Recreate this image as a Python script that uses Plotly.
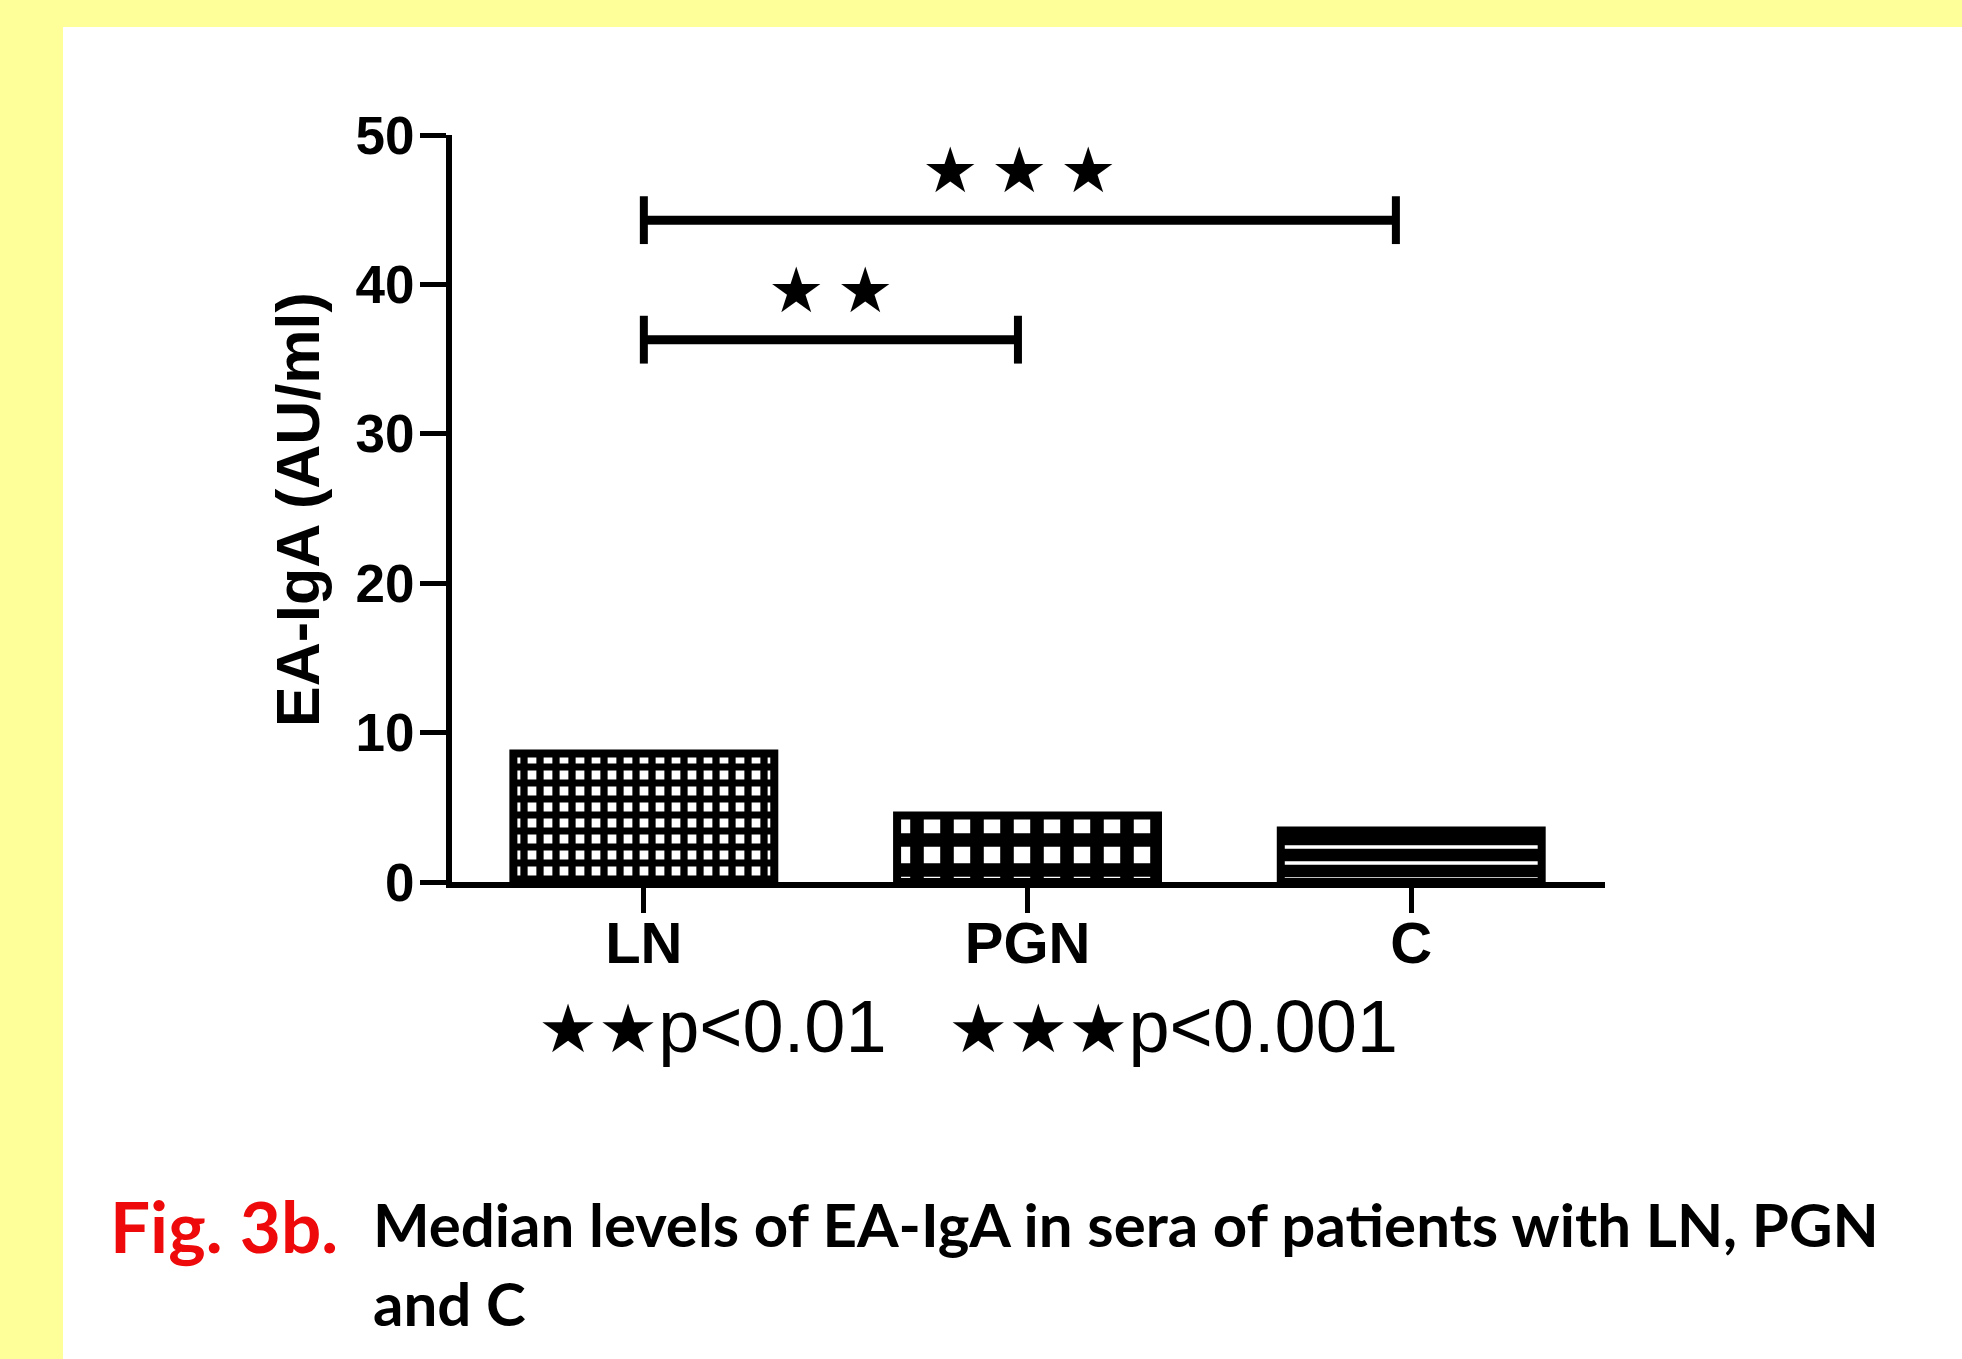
import plotly.graph_objects as go

# ---------------- data ----------------
categories = ["LN", "PGN", "C"]
medians = [8.6, 4.45, 3.45]
y_ticks = [0, 10, 20, 30, 40, 50]

bracket_start = [0.0, 0.0]
bracket_end = [1.96, 0.975]
bracket_level = [44.3, 36.3]
bracket_stars = ["★\u2009★\u2009★", "★\u2009★"]

legend_stars = ["★★", "★★★"]
legend_p = ["p<0.01", "p<0.001"]

caption_fig = "Fig. 3b."
caption_lines = ["Median levels of EA-IgA in sera of patients with LN, PGN", "and C"]

# ---------------- layout constants (pixels) ----------------
W, H = 1962, 1359
L, R, T, B = 452, 1962 - 1605, 135, 1359 - 882
pw, ph = W - L - R, H - T - B


def px_x(p):
    return (p - L) / pw


def px_y(p):
    return (H - B - p) / ph


patterns = [
    dict(shape="+", fgcolor="black", bgcolor="white", size=16, solidity=0.7, fgopacity=1),
    dict(shape="+", fgcolor="black", bgcolor="white", size=30, solidity=0.7, fgopacity=1),
    dict(shape="-", fgcolor="white", bgcolor="black", size=16, solidity=0.22, fgopacity=1),
]

fig = go.Figure()
for i, (c, v) in enumerate(zip(categories, medians)):
    fig.add_trace(go.Bar(
        x=[i], y=[v], width=0.68,
        marker=dict(color="white", pattern=patterns[i],
                    line=dict(color="black", width=8)),
        showlegend=False, hoverinfo="skip",
    ))

# significance brackets
tick_h = 1.6
for xs, xe, yl, s in zip(bracket_start, bracket_end, bracket_level, bracket_stars):
    fig.add_trace(go.Scatter(
        x=[xs, xe], y=[yl, yl], mode="lines",
        line=dict(color="black", width=9), showlegend=False, hoverinfo="skip"))
    for xx in (xs, xe):
        fig.add_trace(go.Scatter(
            x=[xx, xx], y=[yl - tick_h, yl + tick_h], mode="lines",
            line=dict(color="black", width=8), showlegend=False, hoverinfo="skip"))
    fig.add_annotation(x=(xs + xe) / 2, y=yl + 3.3, text=s, showarrow=False,
                       xanchor="center", yanchor="middle",
                       font=dict(family="DejaVu Sans", size=63, color="black"))

# p-value legend text
nb = "\u00a0"
parts = []
for st, p in zip(legend_stars, legend_p):
    parts.append(f'<span style="font-family:DejaVu Sans;font-size:67px">{st}</span>{p}')
legend_text = (nb * 3).join(parts)
fig.add_annotation(x=px_x(536), y=px_y(1026), xref="paper", yref="paper",
                   text=legend_text, showarrow=False, xanchor="left", yanchor="middle",
                   font=dict(family="Liberation Sans, Arial", size=74, color="black"))

# y-axis title
fig.add_annotation(x=px_x(298), y=px_y(510), xref="paper", yref="paper",
                   text="EA-IgA (AU/ml)", textangle=-90, showarrow=False,
                   xanchor="center", yanchor="middle",
                   font=dict(family="Liberation Sans, Arial", size=61, color="black",
                             weight="bold"))

# caption
fig.add_annotation(x=px_x(108), y=px_y(1225), xref="paper", yref="paper",
                   text=caption_fig, showarrow=False, xanchor="left", yanchor="middle",
                   font=dict(family="Lato", size=71, color="#ee0a0a", weight="bold"))
for k, line in enumerate(caption_lines):
    fig.add_annotation(x=px_x(371), y=px_y(1224 + 79 * k), xref="paper", yref="paper",
                       text=line, showarrow=False, xanchor="left", yanchor="middle",
                       font=dict(family="Lato", size=60, color="black", weight="bold"))

# white panel on yellow paper
fig.add_shape(type="rect", xref="paper", yref="paper",
              x0=px_x(63), x1=px_x(W + 5), y0=px_y(H + 5), y1=px_y(27),
              fillcolor="white", line=dict(width=0), layer="below")

fig.update_layout(
    width=W, height=H,
    margin=dict(l=L, r=R, t=T, b=B, autoexpand=False),
    paper_bgcolor="#FFFF99", plot_bgcolor="white",
    bargap=0.3,
)
fig.update_xaxes(
    range=[-0.5, 2.505], tickmode="array", tickvals=list(range(len(categories))),
    ticktext=categories, showline=True, linecolor="black", linewidth=6,
    ticks="outside", ticklen=25, tickwidth=5, tickcolor="black",
    showgrid=False, zeroline=False, ticklabelstandoff=-20,
    tickfont=dict(family="Liberation Sans, Arial", size=58, color="black", weight="bold"),
)
fig.update_yaxes(
    range=[0, 50], tickmode="array", tickvals=y_ticks, showline=True,
    linecolor="black", linewidth=6, ticks="outside", ticklen=26, tickwidth=5,
    tickcolor="black", showgrid=False, zeroline=False, ticklabelstandoff=-5,
    tickfont=dict(family="Liberation Sans, Arial", size=53, color="black", weight="bold"),
)

fig.write_html("out.html", config={"displayModeBar": False},
               post_script="document.body.style.margin='0';")
